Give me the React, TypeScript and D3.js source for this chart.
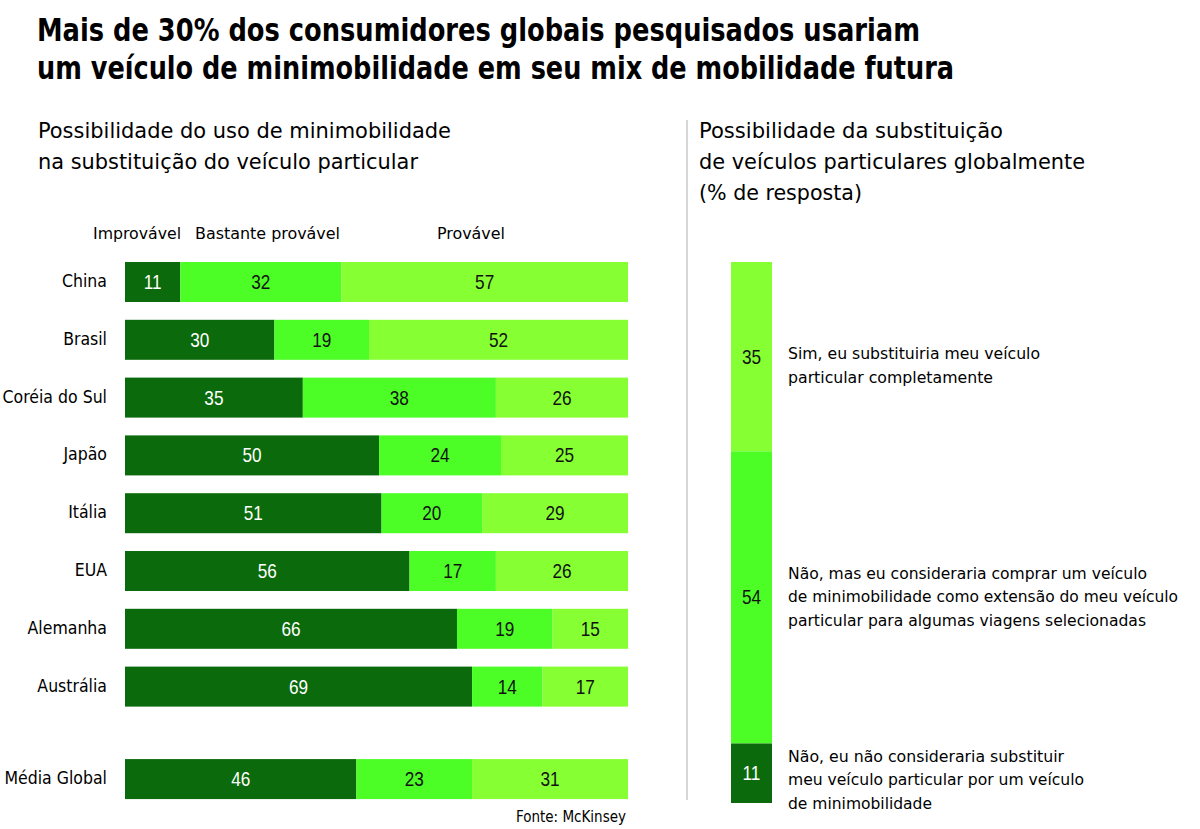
import React from "react";
import * as d3 from "d3";

const countries = ["China", "Brasil", "Coréia do Sul", "Japão", "Itália", "EUA", "Alemanha", "Austrália", "Média Global"];
const improvavel = [11, 30, 35, 50, 51, 56, 66, 69, 46];
const bastante = [32, 19, 38, 24, 20, 17, 19, 14, 23];
const provavel = [57, 52, 26, 25, 29, 26, 15, 17, 31];
const headers = ["Improvável", "Bastante provável", "Provável"];

const rightValues = [35, 54, 11];
const rightNotes = [
  ["Sim, eu substituiria meu veículo", "particular completamente"],
  ["Não, mas eu consideraria comprar um veículo", "de minimobilidade como extensão do meu veículo", "particular para algumas viagens selecionadas"],
  ["Não, eu não consideraria substituir", "meu veículo particular por um veículo", "de minimobilidade"],
];

const COLORS = ["#0b6a0b", "#4dfe26", "#86ff33"];
const FONT = "'DejaVu Sans Condensed', 'Roboto', 'Open Sans', sans-serif";
const NUMFONT = "'Liberation Sans Narrow', 'Liberation Sans', Arial, sans-serif";

function Num({ cx, cy, v, fill }: { cx: number; cy: number; v: number; fill: string }) {
  return (
    <text
      transform={`translate(${cx},${cy + 7}) scale(0.86,1)`}
      textAnchor="middle"
      fontFamily={NUMFONT}
      fontSize={20}
      fill={fill}
    >
      {v}
    </text>
  );
}

export default function App() {
  const W = 1200, H = 829;
  const x = d3.scaleLinear().domain([0, 1]).range([125, 628]);
  const rowIndex = (i: number) => (i < 8 ? i : 8.6);
  const yc = d3.scaleLinear().domain([0, 1]).range([282, 339.8]);
  const barH = 40;

  const rows = countries.map((c, i) => {
    const vals = [improvavel[i], bastante[i], provavel[i]];
    const total = d3.sum(vals);
    let acc = 0;
    const segs = vals.map((v, k) => {
      const s = { k, v, x0: acc / total, x1: (acc + v) / total };
      acc += v;
      return s;
    });
    return { c, cy: yc(rowIndex(i)), segs };
  });

  const yr = d3.scaleLinear().domain([0, 100]).range([262, 803]);
  let racc = 0;
  const rsegs = rightValues.map((v, k) => {
    const s = { v, y0: racc, y1: racc + v, color: COLORS[2 - k] };
    racc += v;
    return s;
  });
  const noteCenters = [365, 596, 779];
  const noteWidths = [
    [252, 205],
    [359, 390, 358],
    [276, 296, 144],
  ];

  return (
    <svg width={W} height={H} style={{ display: "block", position: "absolute", left: 0, top: 0 }}>
      <rect width={W} height={H} fill="#fff" />
      <g fontFamily={FONT} fill="#000">
        <text x={37} y={41} fontSize={32} fontWeight="bold" textLength={883} lengthAdjust="spacingAndGlyphs">
          Mais de 30% dos consumidores globais pesquisados usariam
        </text>
        <text x={37} y={79} fontSize={32} fontWeight="bold" textLength={917} lengthAdjust="spacingAndGlyphs">
          um veículo de minimobilidade em seu mix de mobilidade futura
        </text>
        <text x={38} y={138} fontSize={22} textLength={413} lengthAdjust="spacingAndGlyphs">
          Possibilidade do uso de minimobilidade
        </text>
        <text x={38} y={169} fontSize={22} textLength={380} lengthAdjust="spacingAndGlyphs">
          na substituição do veículo particular
        </text>
        <text x={699} y={138} fontSize={22} textLength={304} lengthAdjust="spacingAndGlyphs">
          Possibilidade da substituição
        </text>
        <text x={699} y={169} fontSize={22} textLength={386} lengthAdjust="spacingAndGlyphs">
          de veículos particulares globalmente
        </text>
        <text x={699} y={200} fontSize={22} textLength={163} lengthAdjust="spacingAndGlyphs">
          (% de resposta)
        </text>
      </g>

      <line x1={687} x2={687} y1={120} y2={800} stroke="#c8c8c8" strokeWidth={1.5} />

      <g fontFamily={FONT} fontSize={16} fill="#000">
        <text x={93} y={239} textLength={88} lengthAdjust="spacingAndGlyphs">{headers[0]}</text>
        <text x={195} y={239} textLength={145} lengthAdjust="spacingAndGlyphs">{headers[1]}</text>
        <text x={437} y={239} textLength={68} lengthAdjust="spacingAndGlyphs">{headers[2]}</text>
      </g>

      {rows.map((r) => (
        <g key={r.c}>
          <text x={107} y={r.cy + 5} textAnchor="end" fontFamily={FONT} fontSize={17.5} fill="#000">
            {r.c}
          </text>
          {r.segs.map((s) => (
            <g key={s.k}>
              <rect x={x(s.x0)} y={r.cy - barH / 2} width={x(s.x1) - x(s.x0)} height={barH} fill={COLORS[s.k]} />
              <Num cx={(x(s.x0) + x(s.x1)) / 2} cy={r.cy} v={s.v} fill={s.k === 0 ? "#fff" : "#111"} />
            </g>
          ))}
        </g>
      ))}

      <text x={626} y={822} textAnchor="end" fontFamily={FONT} fontSize={15} fill="#000">
        Fonte: McKinsey
      </text>

      {rsegs.map((s, k) => (
        <g key={k}>
          <rect x={731} y={yr(s.y0)} width={41} height={yr(s.y1) - yr(s.y0)} fill={s.color} />
          <Num cx={751.5} cy={(yr(s.y0) + yr(s.y1)) / 2} v={s.v} fill={k === 2 ? "#fff" : "#111"} />
          {rightNotes[k].map((line, j) => {
            const n = rightNotes[k].length;
            const cy = noteCenters[k] + (j - (n - 1) / 2) * 23.5;
            return (
              <text
                key={j}
                x={788}
                y={cy + 6}
                fontFamily={FONT}
                fontSize={16}
                fill="#000"
                textLength={noteWidths[k][j]}
                lengthAdjust="spacingAndGlyphs"
              >
                {line}
              </text>
            );
          })}
        </g>
      ))}
    </svg>
  );
}
